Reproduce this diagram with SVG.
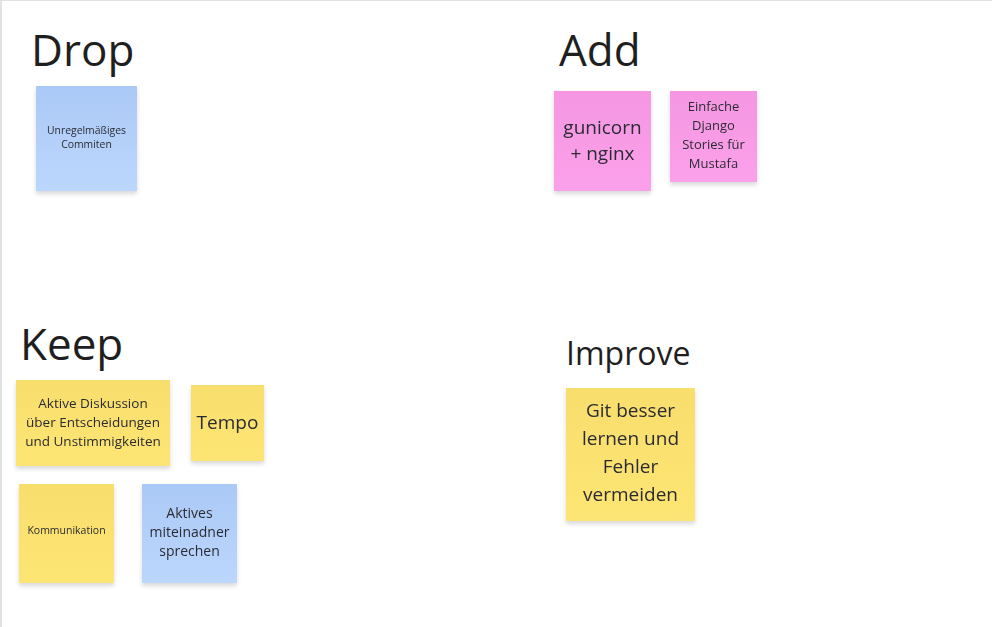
<svg xmlns="http://www.w3.org/2000/svg" width="992" height="627" viewBox="0 0 992 627">
<style>
.title{font-family:"Open Sans","Noto Sans",sans-serif;fill:#1f1f1f}
.t{font-family:"Open Sans","Noto Sans",sans-serif;fill:#2b2b33;text-anchor:middle}
.note{filter:url(#sh)}
</style>
<defs>
<linearGradient id="blue" x1="0" y1="0" x2="0" y2="1"><stop offset="0" stop-color="#abc9f6"/><stop offset="1" stop-color="#bcd7fd"/></linearGradient>
<linearGradient id="pink" x1="0" y1="0" x2="0" y2="1"><stop offset="0" stop-color="#f597e2"/><stop offset="1" stop-color="#fba0ea"/></linearGradient>
<linearGradient id="yellow" x1="0" y1="0" x2="0" y2="1"><stop offset="0" stop-color="#f8de6c"/><stop offset="1" stop-color="#fde574"/></linearGradient>
<filter id="sh" x="-20%" y="-20%" width="140%" height="150%"><feDropShadow dx="0" dy="3" stdDeviation="2" flood-color="#000" flood-opacity="0.15"/></filter>
</defs>
<rect x="0" y="0" width="992" height="627" fill="#ffffff"/>
<line x1="0" y1="0.5" x2="992" y2="0.5" stroke="#e2e2e2" stroke-width="1"/>
<line x1="1" y1="0" x2="1" y2="627" stroke="#e2e2e2" stroke-width="2"/>

<g id="title-drop"><text class="title" x="31" y="66" font-size="44">Drop</text></g>
<g id="title-add"><text class="title" x="559" y="66" font-size="44">Add</text></g>
<g id="title-keep"><text class="title" x="20" y="360" font-size="44">Keep</text></g>
<g id="title-improve"><text class="title" x="566" y="365" font-size="32">Improve</text></g>

<g id="note-unregelmaessiges" class="note">
<rect x="36" y="86" width="101" height="105" fill="url(#blue)"/>
<text class="t" x="86.5" font-size="10.4"><tspan x="86.5" y="134">Unregelmäßiges</tspan><tspan x="86.5" y="148">Commiten</tspan></text>
</g>

<g id="note-gunicorn" class="note">
<rect x="554" y="91" width="97" height="100" fill="url(#pink)"/>
<text class="t" x="602.5" font-size="19"><tspan x="602.5" y="134">gunicorn</tspan><tspan x="602.5" y="160">+ nginx</tspan></text>
</g>

<g id="note-einfache" class="note">
<rect x="670" y="91" width="87" height="91" fill="url(#pink)"/>
<text class="t" x="713.5" font-size="13"><tspan x="713.5" y="111">Einfache</tspan><tspan x="713.5" y="130">Django</tspan><tspan x="713.5" y="149">Stories für</tspan><tspan x="713.5" y="168">Mustafa</tspan></text>
</g>

<g id="note-aktive-diskussion" class="note">
<rect x="16" y="380" width="154" height="86" fill="url(#yellow)"/>
<text class="t" x="93" font-size="13.5"><tspan x="93" y="408">Aktive Diskussion</tspan><tspan x="93" y="427">über Entscheidungen</tspan><tspan x="93" y="446">und Unstimmigkeiten</tspan></text>
</g>

<g id="note-tempo" class="note">
<rect x="191" y="385" width="73" height="76" fill="url(#yellow)"/>
<text class="t" x="227.5" y="429" font-size="19">Tempo</text>
</g>

<g id="note-kommunikation" class="note">
<rect x="19" y="484" width="95" height="99" fill="url(#yellow)"/>
<text class="t" x="66.5" y="534" font-size="10.5">Kommunikation</text>
</g>

<g id="note-aktives-miteinadner" class="note">
<rect x="142" y="484" width="95" height="99" fill="url(#blue)"/>
<text class="t" x="189.5" font-size="14"><tspan x="189.5" y="518">Aktives</tspan><tspan x="189.5" y="537">miteinadner</tspan><tspan x="189.5" y="556">sprechen</tspan></text>
</g>

<g id="note-git-besser" class="note">
<rect x="566" y="388" width="129" height="133" fill="url(#yellow)"/>
<text class="t" x="630.5" font-size="19"><tspan x="630.5" y="417">Git besser</tspan><tspan x="630.5" y="445">lernen und</tspan><tspan x="630.5" y="473">Fehler</tspan><tspan x="630.5" y="501">vermeiden</tspan></text>
</g>

<g id="connectors"></g>
</svg>
